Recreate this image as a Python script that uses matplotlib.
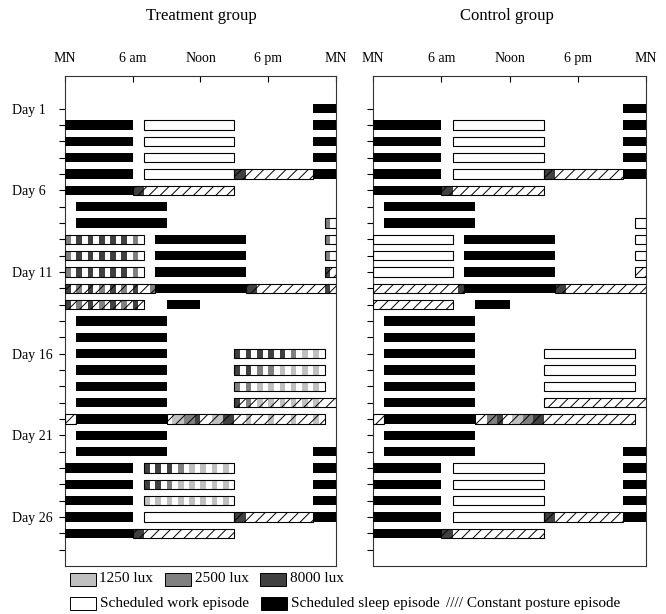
import matplotlib
matplotlib.use("Agg")
import matplotlib.pyplot as plt
from matplotlib.patches import Rectangle

plt.rcParams['font.family'] = ['Liberation Serif', 'DejaVu Serif']
plt.rcParams['hatch.linewidth'] = 0.7

# axis labels
hour_ticks = [0, 6, 12, 18, 24]
hour_labels = ["MN", "6 am", "Noon", "6 pm", "MN"]
day_ticks = list(range(1, 29))
day_labelled = [1, 6, 11, 16, 21, 26]

# episodes shared by both groups: (day, start hour, end hour)
sleep_episodes = [
    (1, 22, 24),
    (2, 0, 6), (2, 22, 24),
    (3, 0, 6), (3, 22, 24),
    (4, 0, 6), (4, 22, 24),
    (5, 0, 6), (5, 22, 24),
    (6, 0, 6),
    (7, 1, 9), (8, 1, 9),
    (9, 8, 16), (10, 8, 16), (11, 8, 16), (12, 8, 16),
    (13, 9, 12),
    (14, 1, 9), (15, 1, 9), (16, 1, 9), (17, 1, 9), (18, 1, 9),
    (19, 1, 9), (20, 1, 9), (21, 1, 9),
    (22, 1, 9), (22, 22, 24),
    (23, 0, 6), (23, 22, 24),
    (24, 0, 6), (24, 22, 24),
    (25, 0, 6), (25, 22, 24),
    (26, 0, 6), (26, 22, 24),
    (27, 0, 6),
]
work_episodes = [
    (2, 7, 15), (3, 7, 15), (4, 7, 15), (5, 7, 15),
    (8, 23, 24), (9, 0, 7), (9, 23, 24), (10, 0, 7), (10, 23, 24), (11, 0, 7),
    (16, 15, 23), (17, 15, 23), (18, 15, 23),
    (23, 7, 15), (24, 7, 15), (25, 7, 15), (26, 7, 15),
]
posture_episodes = [
    (5, 15, 22), (6, 6, 15),
    (11, 23, 24), (12, 0, 8), (12, 16, 24), (13, 0, 7),
    (19, 15, 24), (20, 0, 1), (20, 9, 23),
    (26, 15, 22), (27, 6, 15),
]

# bright light exposures: (day, start hour, end hour, lux)
light_common = [
    (5, 15, 16, 8000), (6, 6, 7, 8000), (12, 16, 17, 8000),
    (26, 15, 16, 8000), (27, 6, 7, 8000),
]
light_control = [
    (12, 7.5, 8, 8000),
    (20, 10, 10.9, 2500), (20, 10.9, 11.4, 8000),
    (20, 12.2, 13.2, 1250), (20, 13.2, 14.1, 2500), (20, 14.1, 15, 8000),
]
light_treat = [
    (8, 23, 23.5, 2500), (9, 23, 23.5, 2500), (10, 23, 23.5, 2500),
    (11, 23, 23.5, 8000), (12, 23, 23.5, 8000),
    (12, 7.5, 8, 2500),
    (20, 9.5, 10.5, 1250), (20, 10.5, 11.5, 2500), (20, 11.5, 12, 8000),
    (20, 13, 14, 1250), (20, 14, 15, 8000),
]
# intermittent light trains in the treatment group: (day, first pulse hour, lux per pulse)
# one 30-min pulse per hour, None = no pulse
pulse_trains = [
    (9, 0, [2500, 8000, 8000, 8000, 8000, 8000, 2500]),
    (10, 0, [2500, 8000, 8000, 8000, 8000, 8000, 2500]),
    (11, 0, [2500, 8000, 8000, 8000, 8000, 8000, 2500]),
    (12, 0, [8000, 2500, 8000, 2500, 8000, 2500, 8000]),
    (13, 0, [8000, 2500, 8000, 2500, 8000, 2500, 8000]),
    (16, 15, [8000, 8000, 8000, 8000, 8000, 2500, 1250, 1250]),
    (17, 15, [8000, 8000, 2500, 2500, 1250, 1250, 1250, 1250]),
    (18, 15, [2500, 2500, 1250, 1250, 1250, 1250, 1250, 1250]),
    (19, 15, [8000, 2500, 1250, 1250, 1250, 1250, 1250, 1250]),
    (20, 15, [None, 1250, None, 1250, None, 1250, None, 1250]),
    (23, 7, [8000, 8000, 8000, 2500, 1250, 1250, 1250, 1250]),
    (24, 7, [8000, 8000, 2500, 1250, 1250, 1250, 1250, 1250]),
    (25, 7, [1250, 1250, 1250, 1250, 1250, 1250, 1250, 1250]),
]

lux_colors = {1250: '#c0c0c0', 2500: '#808080', 8000: '#404040'}
bar_h = 0.58

treat_all = light_common + light_treat
for d, s, levels in pulse_trains:
    for i, lux in enumerate(levels):
        if lux is not None:
            treat_all.append((d, s + i, s + i + 0.5, lux))
control_all = light_common + light_control


def draw_panel(ax, lights, show_labels):
    for d, s, e in work_episodes + posture_episodes:
        ax.barh(d, e - s, left=s, height=bar_h, color='white', lw=0, zorder=2)
    for d, s, e, lux in lights:
        ax.barh(d, e - s, left=s, height=bar_h, color=lux_colors[lux], lw=0, zorder=3)
    for d, s, e in work_episodes:
        ax.barh(d, e - s, left=s, height=bar_h, facecolor='none',
                edgecolor='black', lw=0.8, zorder=4)
    for d, s, e in posture_episodes:
        ax.barh(d, e - s, left=s, height=bar_h, facecolor='none',
                edgecolor='black', lw=0.8, hatch='///', zorder=4)
    for d, s, e in sleep_episodes:
        ax.barh(d, e - s, left=s, height=bar_h, color='black', lw=0, zorder=5)

    ax.set_xlim(0, 24)
    ax.set_ylim(29, -1)
    ax.xaxis.tick_top()
    ax.set_xticks(hour_ticks)
    ax.set_xticklabels(hour_labels, fontsize=10)
    ax.tick_params(axis='x', direction='in', length=4, width=0.8, pad=8)
    ax.set_yticks(day_ticks)
    if show_labels:
        ax.set_yticklabels([f"Day {d}" if d in day_labelled else "" for d in day_ticks],
                           fontsize=10)
        for lab in ax.get_yticklabels():
            lab.set_ha('left')
        ax.tick_params(axis='y', direction='out', length=4, width=0.8, pad=34.5)
    else:
        ax.set_yticklabels([])
        ax.tick_params(axis='y', direction='out', length=4, width=0.8)
    for sp in ax.spines.values():
        sp.set_linewidth(0.8)
        sp.set_color('#333333')


fig = plt.figure(figsize=(6.66, 6.14), dpi=100)
W, H = 666.0, 614.0
ax1 = fig.add_axes([65 / W, 1 - 566 / H, 271 / W, 490 / H])
ax2 = fig.add_axes([373 / W, 1 - 566 / H, 273 / W, 490 / H])
draw_panel(ax1, treat_all, True)
draw_panel(ax2, control_all, False)

fig.text(201 / W, 1 - 16 / H, "Treatment group", ha='center', va='center', fontsize=12)
fig.text(507 / W, 1 - 16 / H, "Control group", ha='center', va='center', fontsize=12)

# legend
def legend_box(x, y, color):
    fig.add_artist(Rectangle((x / W, 1 - (y + 6.5) / H), 26 / W, 13 / H,
                             facecolor=color, edgecolor='black', lw=0.7,
                             transform=fig.transFigure))

row1, row2 = 579, 603
legend_box(70, row1, lux_colors[1250])
fig.text(99 / W, 1 - row1 / H, "1250 lux", va='center', fontsize=11)
legend_box(165, row1, lux_colors[2500])
fig.text(195 / W, 1 - row1 / H, "2500 lux", va='center', fontsize=11)
legend_box(260, row1, lux_colors[8000])
fig.text(290 / W, 1 - row1 / H, "8000 lux", va='center', fontsize=11)
legend_box(70, row2, 'white')
fig.text(100 / W, 1 - row2 / H, "Scheduled work episode", va='center', fontsize=11)
legend_box(261, row2, 'black')
fig.text(291 / W, 1 - row2 / H, "Scheduled sleep episode", va='center', fontsize=11)
fig.text(446 / W, 1 - row2 / H, "//// Constant posture episode", va='center', fontsize=11)

fig.savefig("out.png", dpi=100)
